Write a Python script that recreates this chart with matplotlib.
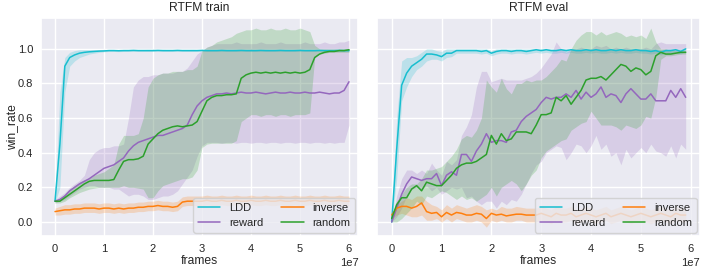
import numpy as np
import matplotlib
matplotlib.use('Agg')
import matplotlib.pyplot as plt
import seaborn as sns

# frames axis (train logged every 1e6, eval every 1e6)
train_frames = np.arange(61) * 1e6
eval_frames = np.arange(60) * 1e6

# ---------------- RTFM train ----------------
ldd_train = [
    0.12, 0.45, 0.90, 0.95, 0.965, 0.975, 0.98, 0.983, 0.985, 0.987,
    0.988, 0.99, 0.99, 0.989, 0.99, 0.99, 0.991, 0.99, 0.99, 0.99,
    0.99, 0.991, 0.99, 0.99, 0.99, 0.991, 0.99, 0.99, 0.99, 0.99,
    0.991, 0.99, 0.99, 0.99, 0.991, 0.99, 0.99, 0.99, 0.991, 0.99,
    0.99, 0.99, 0.991, 0.99, 0.99, 0.99, 0.991, 0.99, 0.99, 0.99,
    0.991, 0.99, 0.99, 0.99, 0.991, 0.99, 0.99, 0.99, 0.991, 0.99,
    0.99]
ldd_train_hi = [
    0.13, 0.75, 0.95, 0.98, 0.99, 0.995, 0.995, 0.996, 0.996, 0.996,
    0.997, 0.996, 0.996, 0.997, 0.996, 0.996, 0.997, 0.996, 0.996, 0.997,
    0.996, 0.996, 0.997, 0.996, 0.996, 0.997, 0.996, 0.996, 0.997, 0.996,
    0.996, 0.997, 0.996, 0.996, 0.997, 0.996, 0.996, 0.997, 0.996, 0.996,
    0.997, 0.996, 0.996, 0.997, 0.996, 0.996, 0.997, 0.996, 0.996, 0.997,
    0.996, 0.996, 0.997, 0.996, 0.996, 0.997, 0.996, 0.996, 0.997, 0.996,
    0.996]
ldd_train_lo = [
    0.11, 0.20, 0.75, 0.90, 0.93, 0.95, 0.96, 0.97, 0.975, 0.98,
    0.983, 0.985, 0.985, 0.984, 0.985, 0.985, 0.986, 0.985, 0.985, 0.985,
    0.985, 0.986, 0.985, 0.985, 0.985, 0.986, 0.985, 0.985, 0.985, 0.985,
    0.986, 0.985, 0.985, 0.985, 0.986, 0.985, 0.985, 0.985, 0.986, 0.985,
    0.985, 0.985, 0.986, 0.985, 0.985, 0.985, 0.986, 0.985, 0.985, 0.985,
    0.986, 0.985, 0.985, 0.985, 0.986, 0.985, 0.985, 0.985, 0.986, 0.985,
    0.985]

reward_train = [
    0.12, 0.13, 0.15, 0.18, 0.20, 0.22, 0.235, 0.25, 0.27, 0.29,
    0.31, 0.32, 0.33, 0.35, 0.37, 0.41, 0.44, 0.46, 0.47, 0.48,
    0.49, 0.50, 0.50, 0.51, 0.52, 0.53, 0.54, 0.56, 0.62, 0.67,
    0.70, 0.72, 0.73, 0.74, 0.74, 0.745, 0.74, 0.745, 0.75, 0.745,
    0.745, 0.75, 0.745, 0.74, 0.745, 0.75, 0.745, 0.745, 0.75, 0.745,
    0.745, 0.75, 0.745, 0.745, 0.75, 0.745, 0.74, 0.745, 0.745, 0.76,
    0.81]
reward_train_hi = [
    0.13, 0.15, 0.17, 0.20, 0.22, 0.24, 0.27, 0.36, 0.40, 0.42,
    0.43, 0.43, 0.44, 0.44, 0.45, 0.60, 0.78, 0.82, 0.84, 0.84,
    0.85, 0.85, 0.86, 0.86, 0.86, 0.87, 0.87, 0.89, 0.93, 0.97,
    0.99, 1.01, 1.02, 1.03, 1.03, 1.03, 1.03, 1.04, 1.03, 1.03,
    1.03, 1.03, 1.04, 1.03, 1.03, 1.03, 1.04, 1.03, 1.03, 1.03,
    1.03, 1.04, 1.03, 1.03, 1.03, 1.04, 1.03, 1.03, 1.04, 1.04,
    1.05]
reward_train_lo = [
    0.11, 0.12, 0.13, 0.15, 0.17, 0.19, 0.20, 0.21, 0.21, 0.20,
    0.20, 0.20, 0.19, 0.19, 0.17, 0.15, 0.16, 0.16, 0.15, 0.13,
    0.13, 0.14, 0.15, 0.15, 0.16, 0.18, 0.22, 0.26, 0.30, 0.38,
    0.44, 0.46, 0.46, 0.46, 0.455, 0.46, 0.46, 0.455, 0.46, 0.46,
    0.455, 0.46, 0.46, 0.455, 0.46, 0.46, 0.455, 0.46, 0.46, 0.455,
    0.46, 0.46, 0.455, 0.46, 0.46, 0.455, 0.46, 0.455, 0.46, 0.46,
    0.56]

inverse_train = [
    0.06, 0.065, 0.07, 0.07, 0.075, 0.075, 0.08, 0.08, 0.08, 0.075,
    0.08, 0.08, 0.075, 0.08, 0.075, 0.08, 0.08, 0.085, 0.085, 0.09,
    0.09, 0.095, 0.09, 0.09, 0.085, 0.09, 0.115, 0.12, 0.12, 0.12,
    0.12, 0.125, 0.12, 0.12, 0.125, 0.12, 0.12, 0.125, 0.12, 0.12,
    0.125, 0.12, 0.12, 0.125, 0.12, 0.12, 0.125, 0.12, 0.12, 0.125,
    0.12, 0.12, 0.125, 0.12, 0.12, 0.125, 0.12, 0.12, 0.125, 0.12,
    0.12]
inverse_train_hi = [
    0.08, 0.09, 0.10, 0.10, 0.105, 0.105, 0.11, 0.11, 0.11, 0.105,
    0.11, 0.11, 0.105, 0.11, 0.105, 0.11, 0.11, 0.115, 0.115, 0.12,
    0.12, 0.125, 0.12, 0.12, 0.115, 0.12, 0.145, 0.15, 0.15, 0.15,
    0.15, 0.155, 0.15, 0.15, 0.155, 0.15, 0.15, 0.155, 0.15, 0.15,
    0.155, 0.15, 0.15, 0.155, 0.15, 0.15, 0.155, 0.15, 0.15, 0.155,
    0.15, 0.15, 0.155, 0.15, 0.15, 0.155, 0.15, 0.15, 0.155, 0.15,
    0.15]
inverse_train_lo = [
    0.04, 0.04, 0.045, 0.045, 0.05, 0.05, 0.055, 0.055, 0.055, 0.05,
    0.055, 0.055, 0.05, 0.055, 0.05, 0.055, 0.055, 0.06, 0.06, 0.065,
    0.065, 0.07, 0.065, 0.065, 0.06, 0.065, 0.09, 0.095, 0.095, 0.095,
    0.095, 0.10, 0.095, 0.095, 0.10, 0.095, 0.095, 0.10, 0.095, 0.095,
    0.10, 0.095, 0.095, 0.10, 0.095, 0.095, 0.10, 0.095, 0.095, 0.10,
    0.095, 0.095, 0.10, 0.095, 0.095, 0.10, 0.095, 0.095, 0.10, 0.095,
    0.095]

random_train = [
    0.12, 0.12, 0.14, 0.16, 0.18, 0.20, 0.22, 0.235, 0.24, 0.24,
    0.24, 0.24, 0.245, 0.30, 0.35, 0.36, 0.36, 0.365, 0.38, 0.45,
    0.48, 0.51, 0.53, 0.54, 0.55, 0.555, 0.55, 0.555, 0.56, 0.58,
    0.64, 0.70, 0.72, 0.73, 0.73, 0.735, 0.735, 0.74, 0.83, 0.85,
    0.86, 0.865, 0.86, 0.865, 0.86, 0.865, 0.86, 0.865, 0.86, 0.865,
    0.86, 0.865, 0.88, 0.95, 0.97, 0.98, 0.985, 0.985, 0.99, 0.99,
    0.995]
random_train_hi = [
    0.13, 0.13, 0.16, 0.19, 0.21, 0.23, 0.245, 0.25, 0.27, 0.28,
    0.29, 0.31, 0.33, 0.45, 0.50, 0.50, 0.50, 0.51, 0.60, 0.78,
    0.83, 0.85, 0.86, 0.86, 0.87, 0.87, 0.87, 0.88, 0.88, 0.90,
    0.99, 1.01, 1.02, 1.04, 1.05, 1.06, 1.07, 1.09, 1.10, 1.11,
    1.11, 1.12, 1.11, 1.11, 1.12, 1.11, 1.11, 1.12, 1.11, 1.11,
    1.12, 1.11, 1.10, 1.02, 1.00, 1.00, 1.00, 1.00, 1.00, 1.00,
    1.00]
random_train_lo = [
    0.11, 0.11, 0.12, 0.14, 0.155, 0.17, 0.18, 0.19, 0.195, 0.20,
    0.20, 0.20, 0.20, 0.20, 0.21, 0.20, 0.20, 0.195, 0.19, 0.14,
    0.14, 0.18, 0.21, 0.22, 0.23, 0.24, 0.25, 0.25, 0.26, 0.30,
    0.43, 0.45, 0.455, 0.455, 0.455, 0.455, 0.455, 0.47, 0.58, 0.60,
    0.62, 0.62, 0.61, 0.62, 0.62, 0.61, 0.62, 0.62, 0.61, 0.62,
    0.62, 0.62, 0.63, 0.95, 0.97, 0.975, 0.98, 0.98, 0.98, 0.98,
    0.98]

# ---------------- RTFM eval ----------------
ldd_eval = [
    0.0, 0.42, 0.79, 0.86, 0.90, 0.92, 0.94, 0.97, 0.97, 0.965,
    0.955, 0.975, 0.975, 0.99, 0.99, 0.99, 0.99, 0.99, 0.985, 0.99,
    0.975, 0.985, 0.99, 0.99, 0.985, 0.99, 0.99, 0.985, 0.99, 0.995,
    0.99, 0.995, 0.99, 0.99, 0.995, 0.99, 0.995, 0.99, 0.99, 0.995,
    0.99, 0.995, 0.99, 0.99, 0.995, 0.99, 0.995, 0.99, 0.99, 0.995,
    0.99, 0.99, 0.985, 0.99, 0.98, 0.99, 0.99, 0.995, 0.985, 1.0]
ldd_eval_hi = [
    0.0, 0.60, 0.93, 0.95, 0.95, 0.96, 0.98, 1.0, 1.0, 0.99,
    0.985, 1.0, 1.0, 1.0, 1.0, 1.0, 1.0, 1.0, 1.0, 1.0,
    0.99, 1.0, 1.0, 1.0, 1.0, 1.0, 1.0, 1.0, 1.0, 1.0,
    1.0, 1.0, 1.0, 1.0, 1.0, 1.0, 1.0, 1.0, 1.0, 1.0,
    1.0, 1.0, 1.0, 1.0, 1.0, 1.0, 1.0, 1.0, 1.0, 1.0,
    1.0, 1.0, 1.0, 1.0, 0.995, 1.0, 1.0, 1.0, 1.0, 1.0]
ldd_eval_lo = [
    0.0, 0.25, 0.70, 0.78, 0.84, 0.88, 0.90, 0.93, 0.94, 0.94,
    0.93, 0.95, 0.955, 0.975, 0.975, 0.975, 0.975, 0.975, 0.97, 0.975,
    0.96, 0.97, 0.975, 0.975, 0.97, 0.975, 0.975, 0.97, 0.975, 0.98,
    0.975, 0.98, 0.975, 0.975, 0.98, 0.975, 0.98, 0.975, 0.975, 0.98,
    0.975, 0.98, 0.975, 0.975, 0.98, 0.975, 0.98, 0.975, 0.975, 0.98,
    0.975, 0.975, 0.97, 0.975, 0.965, 0.975, 0.975, 0.98, 0.97, 0.985]

reward_eval = [
    0.0, 0.08, 0.16, 0.22, 0.26, 0.25, 0.24, 0.25, 0.25, 0.28,
    0.21, 0.27, 0.29, 0.27, 0.39, 0.39, 0.35, 0.41, 0.45, 0.51,
    0.46, 0.47, 0.47, 0.46, 0.52, 0.53, 0.58, 0.61, 0.63, 0.65,
    0.69, 0.72, 0.71, 0.72, 0.72, 0.74, 0.72, 0.76, 0.71, 0.75,
    0.72, 0.74, 0.78, 0.72, 0.74, 0.73, 0.69, 0.74, 0.77, 0.74,
    0.71, 0.71, 0.74, 0.70, 0.70, 0.70, 0.76, 0.72, 0.77, 0.72]
reward_eval_hi = [
    0.0, 0.15, 0.25, 0.30, 0.30, 0.28, 0.30, 0.28, 0.34, 0.30,
    0.27, 0.35, 0.33, 0.36, 0.50, 0.55, 0.62, 0.78, 0.87, 0.87,
    0.81, 0.82, 0.83, 0.82, 0.82, 0.82, 0.82, 0.83, 0.84, 0.86,
    0.89, 0.93, 0.97, 1.04, 1.00, 0.98, 1.00, 1.00, 1.01, 1.00,
    1.00, 1.02, 1.01, 1.02, 1.00, 1.01, 1.00, 1.01, 1.00, 1.00,
    1.00, 1.01, 1.00, 1.03, 1.04, 1.03, 1.03, 1.03, 1.03, 1.03]
reward_eval_lo = [
    0.0, 0.03, 0.08, 0.15, 0.19, 0.20, 0.19, 0.21, 0.18, 0.20,
    0.16, 0.18, 0.20, 0.19, 0.20, 0.14, 0.15, 0.12, 0.10, 0.12,
    0.12, 0.08, 0.12, 0.10, 0.13, 0.12, 0.16, 0.22, 0.28, 0.33,
    0.35, 0.40, 0.42, 0.44, 0.43, 0.36, 0.40, 0.45, 0.44, 0.40,
    0.44, 0.50, 0.42, 0.45, 0.38, 0.40, 0.33, 0.42, 0.37, 0.40,
    0.43, 0.40, 0.45, 0.41, 0.40, 0.38, 0.44, 0.37, 0.45, 0.42]

inverse_eval = [
    0.04, 0.08, 0.09, 0.09, 0.08, 0.09, 0.11, 0.06, 0.05, 0.055,
    0.03, 0.055, 0.04, 0.055, 0.05, 0.04, 0.04, 0.05, 0.045, 0.02,
    0.05, 0.04, 0.045, 0.035, 0.04, 0.045, 0.045, 0.04, 0.04, 0.04,
    0.05, 0.04, 0.03, 0.05, 0.04, 0.04, 0.05, 0.03, 0.04, 0.05,
    0.04, 0.03, 0.04, 0.05, 0.03, 0.04, 0.05, 0.04, 0.03, 0.04,
    0.05, 0.04, 0.03, 0.04, 0.05, 0.04, 0.03, 0.05, 0.04, 0.04]
inverse_eval_hi = [
    0.05, 0.10, 0.12, 0.14, 0.13, 0.15, 0.15, 0.12, 0.10, 0.09,
    0.07, 0.10, 0.08, 0.10, 0.09, 0.08, 0.09, 0.10, 0.09, 0.07,
    0.08, 0.07, 0.09, 0.08, 0.08, 0.09, 0.085, 0.08, 0.08, 0.08,
    0.09, 0.08, 0.07, 0.09, 0.08, 0.08, 0.09, 0.07, 0.08, 0.09,
    0.08, 0.07, 0.08, 0.09, 0.07, 0.08, 0.09, 0.08, 0.07, 0.08,
    0.09, 0.08, 0.07, 0.08, 0.09, 0.08, 0.07, 0.09, 0.08, 0.08]
inverse_eval_lo = [
    0.02, 0.04, 0.05, 0.04, 0.03, 0.03, 0.04, 0.01, 0.01, 0.02,
    0.0, 0.02, 0.0, 0.02, 0.01, 0.0, 0.0, 0.01, 0.0, -0.03,
    0.01, 0.0, 0.01, 0.0, 0.0, 0.01, 0.01, 0.0, 0.0, 0.0,
    0.01, 0.0, -0.01, 0.01, 0.0, 0.0, 0.01, -0.01, 0.0, 0.01,
    0.0, -0.01, 0.0, 0.01, -0.01, 0.0, 0.01, 0.0, -0.01, 0.0,
    0.01, 0.0, -0.01, 0.0, 0.01, 0.0, -0.01, 0.01, 0.0, 0.0]

random_eval = [
    0.02, 0.10, 0.14, 0.14, 0.19, 0.21, 0.18, 0.23, 0.22, 0.21,
    0.21, 0.24, 0.27, 0.31, 0.33, 0.34, 0.34, 0.35, 0.37, 0.39,
    0.50, 0.45, 0.51, 0.47, 0.48, 0.52, 0.52, 0.52, 0.51, 0.56,
    0.62, 0.62, 0.63, 0.72, 0.70, 0.73, 0.68, 0.72, 0.76, 0.82,
    0.83, 0.83, 0.84, 0.82, 0.85, 0.88, 0.91, 0.90, 0.87, 0.89,
    0.88, 0.85, 0.87, 0.96, 0.98, 0.97, 0.97, 0.975, 0.98, 0.98]
random_eval_hi = [
    0.03, 0.12, 0.16, 0.20, 0.22, 0.22, 0.25, 0.30, 0.30, 0.31,
    0.32, 0.35, 0.38, 0.42, 0.48, 0.50, 0.49, 0.53, 0.60, 0.82,
    0.78, 0.75, 0.83, 0.77, 0.74, 0.80, 0.80, 0.82, 0.81, 0.82,
    0.82, 0.84, 0.87, 0.90, 0.94, 0.93, 1.00, 1.05, 1.08, 1.10,
    1.10, 1.08, 1.10, 1.08, 1.09, 1.10, 1.09, 1.07, 1.08, 1.07,
    1.08, 1.06, 1.12, 1.04, 1.00, 1.00, 0.99, 0.99, 0.99, 0.99]
random_eval_lo = [
    0.0, 0.0, 0.02, 0.05, 0.08, 0.12, 0.10, 0.15, 0.14, 0.16,
    0.18, 0.17, 0.15, 0.13, 0.15, 0.13, 0.14, 0.12, 0.14, 0.16,
    0.20, 0.15, 0.20, 0.22, 0.24, 0.22, 0.18, 0.22, 0.27, 0.30,
    0.37, 0.41, 0.43, 0.45, 0.47, 0.48, 0.53, 0.55, 0.57, 0.58,
    0.64, 0.60, 0.56, 0.56, 0.56, 0.55, 0.53, 0.56, 0.55, 0.54,
    0.56, 0.61, 0.60, 0.72, 0.94, 0.96, 0.96, 0.965, 0.97, 0.97]

names = ['LDD', 'reward', 'inverse', 'random']
colors = ['#17becf', '#9467bd', '#ff7f0e', '#2ca02c']

train_runs = [
    (ldd_train, ldd_train_lo, ldd_train_hi),
    (reward_train, reward_train_lo, reward_train_hi),
    (inverse_train, inverse_train_lo, inverse_train_hi),
    (random_train, random_train_lo, random_train_hi),
]
eval_runs = [
    (ldd_eval, ldd_eval_lo, ldd_eval_hi),
    (reward_eval, reward_eval_lo, reward_eval_hi),
    (inverse_eval, inverse_eval_lo, inverse_eval_hi),
    (random_eval, random_eval_lo, random_eval_hi),
]

sns.set_theme(style='darkgrid', font_scale=0.73)
plt.rcParams['font.family'] = ['Liberation Sans', 'DejaVu Sans']
plt.rcParams['xtick.major.size'] = 0
plt.rcParams['ytick.major.size'] = 0
plt.rcParams['xtick.major.pad'] = 5.5
plt.rcParams['ytick.major.pad'] = 5.5

fig = plt.figure(figsize=(7.06, 2.72), dpi=100)
W, H = 706, 272
ax1 = fig.add_axes([40.7 / W, 1 - 236 / H, (358.3 - 40.7) / W, (236 - 17.7) / H])
ax2 = fig.add_axes([377.3 / W, 1 - 236 / H, (700 - 377.3) / W, (236 - 17.7) / H],
                   sharey=ax1)


def draw(ax, frames, runs, title):
    for name, c, (mean, lo, hi) in zip(names, colors, runs):
        ax.fill_between(frames, lo, hi, color=c, alpha=0.22, linewidth=0)
        ax.plot(frames, mean, color=c, linewidth=1.1, label=name)
    ax.set_title(title, pad=5)
    ax.set_xlabel('frames', labelpad=1)
    ax.legend(loc='lower right', ncol=2, columnspacing=1.6, borderaxespad=0.3)


draw(ax1, train_frames, train_runs, 'RTFM train')
draw(ax2, eval_frames, eval_runs, 'RTFM eval')

ax1.set_xlim(-0.292e7, 6.19e7)
ax2.set_xlim(-0.289e7, 6.187e7)
ax1.set_ylim(-0.081, 1.18)
ax1.set_yticks([0.0, 0.2, 0.4, 0.6, 0.8, 1.0])
ax1.set_ylabel('win_rate')
ax1.yaxis.set_label_coords(-0.072, 0.5)
plt.setp(ax2.get_yticklabels(), visible=False)

fig.savefig('out.png', dpi=100)
